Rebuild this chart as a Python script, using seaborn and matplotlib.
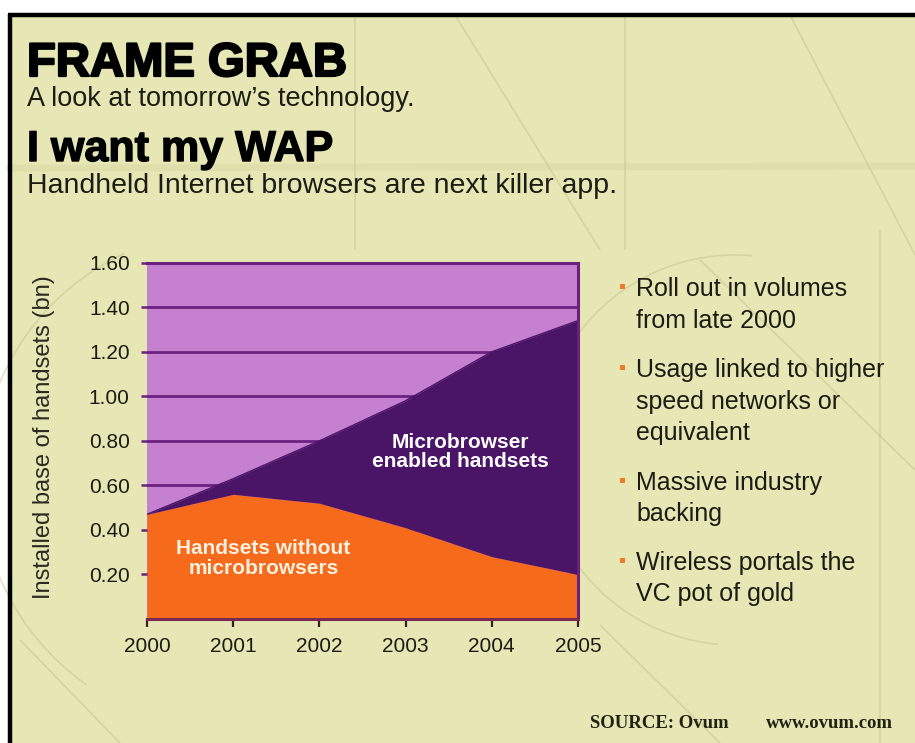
import numpy as np
import pandas as pd
import matplotlib
matplotlib.use("Agg")
import matplotlib.pyplot as plt
import matplotlib.patheffects as pe
from matplotlib.patches import Rectangle, Arc
import seaborn as sns

# ---- data (installed base of handsets, bn) ----
years = [2000, 2001, 2002, 2003, 2004, 2005]
without_browser = [0.47, 0.56, 0.52, 0.41, 0.28, 0.20]
with_browser = [0.00, 0.07, 0.28, 0.57, 0.92, 1.14]
y_ticks = [0.20, 0.40, 0.60, 0.80, 1.00, 1.20, 1.40, 1.60]
bullets = [
    "Roll out in volumes\nfrom late 2000",
    "Usage linked to higher\nspeed networks or\nequivalent",
    "Massive industry\nbacking",
    "Wireless portals the\nVC pot of gold",
]

sns.set_theme(style="white")
plt.rcParams["font.family"] = ["Liberation Sans", "DejaVu Sans"]

W, H = 915, 743
PAPER = "#e6e7b5"
LIGHT_PURPLE = "#c680d0"
DARK_PURPLE = "#4b1567"
ORANGE = "#f66a1c"
GRID = "#6a2280"
INK = "#1c1c14"

fig = plt.figure(figsize=(W / 100, H / 100), dpi=100)
fig.patch.set_facecolor("white")

# ---- background panel in pixel coordinates ----
bg = fig.add_axes([0, 0, 1, 1], zorder=-1)
bg.set_xlim(0, W)
bg.set_ylim(H, 0)
bg.axis("off")
bg.add_patch(Rectangle((9, 15), W - 9, H - 15, facecolor=PAPER, edgecolor="none"))

deco = dict(color="#b9b87e", lw=1.2, alpha=0.4, solid_capstyle="butt")
for (x0, y0, x1, y1) in [
    (355, 15, 355, 250), (625, 15, 625, 250), (790, 15, 915, 255),
    (455, 15, 600, 250), (700, 260, 915, 470), (880, 230, 880, 743),
    (20, 640, 120, 743), (600, 625, 720, 743),
]:
    bg.plot([x0, x1], [y0, y1], **deco)
bg.plot([9, 915], [168, 166], color="#c9c88f", lw=5, alpha=0.25)
for (cx, cy, r, t1, t2) in [
    (735, 450, 195, 95, 275), (230, 480, 250, 125, 245),
]:
    bg.add_patch(Arc((cx, cy), 2 * r, 2 * r, theta1=t1, theta2=t2,
                     color="#b9b87e", lw=1.2, alpha=0.4))

# frame rules along top and left edge
bg.plot([8, W], [15, 15], color="black", lw=3.2, solid_capstyle="butt")
bg.plot([9.5, 9.5], [14, H], color="black", lw=3.2, solid_capstyle="butt")

# ---- headings ----
def px(x, y):
    return x / W, 1 - y / H

fig.text(*px(27, 76), "FRAME GRAB", fontsize=34, fontweight="bold", color="black",
         va="baseline", path_effects=[pe.withStroke(linewidth=1.6, foreground="black")])
fig.text(*px(27, 106), "A look at tomorrow\u2019s technology.", fontsize=19.5, color=INK, va="baseline")
fig.text(*px(27, 161), "I want my WAP", fontsize=31, fontweight="bold", color="black",
         va="baseline", path_effects=[pe.withStroke(linewidth=1.0, foreground="black")])
fig.text(*px(27, 193), "Handheld Internet browsers are next killer app.", fontsize=20.5, color=INK, va="baseline")

# ---- main area chart ----
ax = fig.add_axes([147 / W, 1 - 619 / H, 431 / W, 356.3 / H])
ax.set_facecolor(LIGHT_PURPLE)
ax.stackplot(years, without_browser, with_browser, colors=[ORANGE, DARK_PURPLE],
             linewidth=0, zorder=1)
totals = pd.DataFrame({"year": years,
                       "total": np.add(without_browser, with_browser)})
sns.lineplot(data=totals, x="year", y="total", color=DARK_PURPLE, lw=1.0, ax=ax, zorder=1.2)

ax.set_xlim(2000, 2005)
ax.set_ylim(0, 1.6)
ax.set_xticks(years)
ax.set_xticklabels([str(y) for y in years], fontsize=15, color=INK)
ax.set_yticks(y_ticks)
ax.set_yticklabels([f"{v:.2f}" for v in y_ticks], fontsize=15, color=INK)
ax.set_xlabel("")
ax.set_ylabel("")
ax.set_axisbelow(True)
ax.yaxis.grid(True, color=GRID, lw=2.0)
ax.xaxis.grid(False)
ax.tick_params(axis="y", direction="out", length=4.5, width=1.8, color=GRID, pad=8, left=True)
ax.tick_params(axis="x", direction="out", length=6, width=1.6, color="#3a2020", pad=7, bottom=True)
for side in ["top", "right"]:
    ax.spines[side].set_color(GRID)
    ax.spines[side].set_linewidth(2.2)
ax.spines["left"].set_visible(False)
ax.spines["bottom"].set_color("#7a2a50")
ax.spines["bottom"].set_linewidth(2.2)

ax.text(2003.63, 0.75, "Microbrowser\nenabled handsets", fontsize=15,
        fontweight="bold", color="white", ha="center", va="center", linespacing=1.05, zorder=3)
ax.text(2001.35, 0.27, "Handsets without\nmicrobrowsers", fontsize=15,
        fontweight="bold", color="#fff1e0", ha="center", va="center", linespacing=1.05, zorder=3)

fig.text(*px(44, 437), "Installed base of handsets (bn)", fontsize=17,
         color="#2a2a20", rotation=90, ha="center", va="center")

# ---- bullet notes, placed by the centre of each item's first line ----
line_h = 31.5
first_lines = [289, 370, 483, 563]
for item, y0 in zip(bullets, first_lines):
    bg.add_patch(Rectangle((619.5, y0 - 5), 5, 5, facecolor="#f07a2c", edgecolor="none", zorder=2))
    for k, line in enumerate(item.split("\n")):
        fig.text(*px(636, y0 + k * line_h), line, fontsize=18, color=INK, va="center", ha="left")

# ---- source line ----
fig.text(*px(590, 728), "SOURCE: Ovum", family=["Liberation Serif"], fontweight="bold",
         fontsize=13.5, color="#222214", va="baseline", ha="left")
fig.text(*px(893, 728), "www.ovum.com", family=["Liberation Serif"], fontweight="bold",
         fontsize=13.5, color="#222214", va="baseline", ha="right")

fig.savefig("out.png", dpi=100, facecolor=fig.get_facecolor())
